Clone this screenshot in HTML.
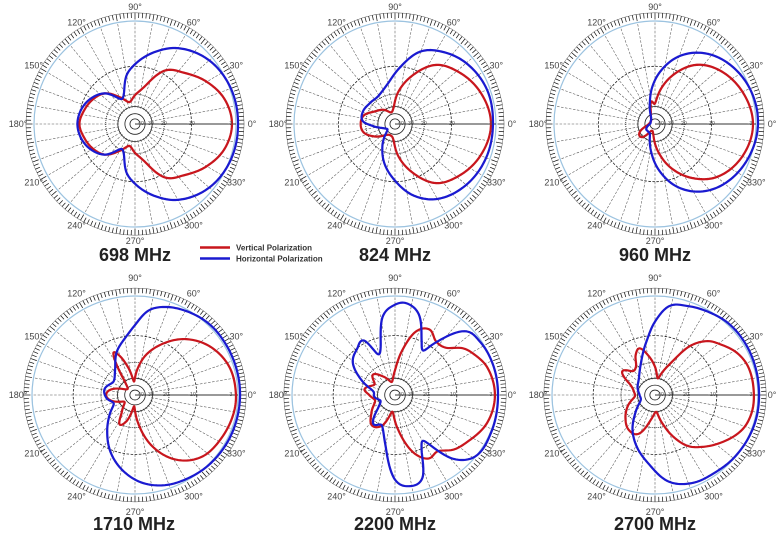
<!DOCTYPE html>
<html><head><meta charset="utf-8"><style>
html,body{margin:0;padding:0;background:#fff;}
svg{display:block;font-family:"Liberation Sans",Arial,sans-serif;}
.al{font-size:9px;fill:#444;text-anchor:middle;dominant-baseline:central;}
.db{font-size:5.5px;fill:#555;text-anchor:middle;dominant-baseline:central;}
.tt{font-size:18px;font-weight:bold;fill:#222;text-anchor:middle;}
.lg{font-size:8px;font-weight:bold;fill:#333;}
</style></head><body>
<svg id="s" width="781" height="536" viewBox="0 0 781 536" xmlns="http://www.w3.org/2000/svg">
<g transform="translate(135,124)"><g id="c0" transform="scale(1.01,1.03)"><g class="grid"></g></g>
<text class="al" x="117" y="0">0°</text><text class="al" x="101.3" y="-58.5">30°</text><text class="al" x="58.5" y="-101.3">60°</text><text class="al" x="0" y="-117">90°</text><text class="al" x="-58.5" y="-101.3">120°</text><text class="al" x="-101.3" y="-58.5">150°</text><text class="al" x="-117" y="0">180°</text><text class="al" x="-101.3" y="58.5">210°</text><text class="al" x="-58.5" y="101.3">240°</text><text class="al" x="0" y="117">270°</text><text class="al" x="58.5" y="101.3">300°</text><text class="al" x="101.3" y="58.5">330°</text>
<text class="db" x="5" y="0">-40</text><text class="db" x="15" y="0">-30</text><text class="db" x="28" y="0">-20</text><text class="db" x="56" y="0">-10</text><text class="db" x="95" y="0">-3</text></g>
<g transform="translate(395,124)"><g id="c1" transform="scale(1.01,1.03)"><g class="grid"></g></g>
<text class="al" x="117" y="0">0°</text><text class="al" x="101.3" y="-58.5">30°</text><text class="al" x="58.5" y="-101.3">60°</text><text class="al" x="0" y="-117">90°</text><text class="al" x="-58.5" y="-101.3">120°</text><text class="al" x="-101.3" y="-58.5">150°</text><text class="al" x="-117" y="0">180°</text><text class="al" x="-101.3" y="58.5">210°</text><text class="al" x="-58.5" y="101.3">240°</text><text class="al" x="0" y="117">270°</text><text class="al" x="58.5" y="101.3">300°</text><text class="al" x="101.3" y="58.5">330°</text>
<text class="db" x="5" y="0">-40</text><text class="db" x="15" y="0">-30</text><text class="db" x="28" y="0">-20</text><text class="db" x="56" y="0">-10</text><text class="db" x="95" y="0">-3</text></g>
<g transform="translate(655,124)"><g id="c2" transform="scale(1.01,1.03)"><g class="grid"></g></g>
<text class="al" x="117" y="0">0°</text><text class="al" x="101.3" y="-58.5">30°</text><text class="al" x="58.5" y="-101.3">60°</text><text class="al" x="0" y="-117">90°</text><text class="al" x="-58.5" y="-101.3">120°</text><text class="al" x="-101.3" y="-58.5">150°</text><text class="al" x="-117" y="0">180°</text><text class="al" x="-101.3" y="58.5">210°</text><text class="al" x="-58.5" y="101.3">240°</text><text class="al" x="0" y="117">270°</text><text class="al" x="58.5" y="101.3">300°</text><text class="al" x="101.3" y="58.5">330°</text>
<text class="db" x="5" y="0">-40</text><text class="db" x="15" y="0">-30</text><text class="db" x="28" y="0">-20</text><text class="db" x="56" y="0">-10</text><text class="db" x="95" y="0">-3</text></g>
<g transform="translate(135,395)"><g id="c3" transform="scale(1.03,0.99)"><g class="grid"></g></g>
<text class="al" x="117" y="0">0°</text><text class="al" x="101.3" y="-58.5">30°</text><text class="al" x="58.5" y="-101.3">60°</text><text class="al" x="0" y="-117">90°</text><text class="al" x="-58.5" y="-101.3">120°</text><text class="al" x="-101.3" y="-58.5">150°</text><text class="al" x="-117" y="0">180°</text><text class="al" x="-101.3" y="58.5">210°</text><text class="al" x="-58.5" y="101.3">240°</text><text class="al" x="0" y="117">270°</text><text class="al" x="58.5" y="101.3">300°</text><text class="al" x="101.3" y="58.5">330°</text>
<text class="db" x="5" y="0">-40</text><text class="db" x="15" y="0">-30</text><text class="db" x="30" y="0">-20</text><text class="db" x="57" y="0">-10</text><text class="db" x="95" y="0">-3</text></g>
<g transform="translate(395,395)"><g id="c4" transform="scale(1.03,0.99)"><g class="grid"></g></g>
<text class="al" x="117" y="0">0°</text><text class="al" x="101.3" y="-58.5">30°</text><text class="al" x="58.5" y="-101.3">60°</text><text class="al" x="0" y="-117">90°</text><text class="al" x="-58.5" y="-101.3">120°</text><text class="al" x="-101.3" y="-58.5">150°</text><text class="al" x="-117" y="0">180°</text><text class="al" x="-101.3" y="58.5">210°</text><text class="al" x="-58.5" y="101.3">240°</text><text class="al" x="0" y="117">270°</text><text class="al" x="58.5" y="101.3">300°</text><text class="al" x="101.3" y="58.5">330°</text>
<text class="db" x="5" y="0">-40</text><text class="db" x="15" y="0">-30</text><text class="db" x="30" y="0">-20</text><text class="db" x="57" y="0">-10</text><text class="db" x="95" y="0">-3</text></g>
<g transform="translate(655,395)"><g id="c5" transform="scale(1.03,0.99)"><g class="grid"></g></g>
<text class="al" x="117" y="0">0°</text><text class="al" x="101.3" y="-58.5">30°</text><text class="al" x="58.5" y="-101.3">60°</text><text class="al" x="0" y="-117">90°</text><text class="al" x="-58.5" y="-101.3">120°</text><text class="al" x="-101.3" y="-58.5">150°</text><text class="al" x="-117" y="0">180°</text><text class="al" x="-101.3" y="58.5">210°</text><text class="al" x="-58.5" y="101.3">240°</text><text class="al" x="0" y="117">270°</text><text class="al" x="58.5" y="101.3">300°</text><text class="al" x="101.3" y="58.5">330°</text>
<text class="db" x="5" y="0">-40</text><text class="db" x="15" y="0">-30</text><text class="db" x="30" y="0">-20</text><text class="db" x="57" y="0">-10</text><text class="db" x="95" y="0">-3</text></g>
<text class="tt" x="135" y="261">698 MHz</text>
<text class="tt" x="395" y="261">824 MHz</text>
<text class="tt" x="655" y="261">960 MHz</text>
<text class="tt" x="134" y="530">1710 MHz</text>
<text class="tt" x="395" y="530">2200 MHz</text>
<text class="tt" x="655" y="530">2700 MHz</text>
<line x1="200" y1="247.5" x2="230" y2="247.5" stroke="#c8161d" stroke-width="2.5"/>
<line x1="200" y1="258.5" x2="230" y2="258.5" stroke="#1a1ad0" stroke-width="2.5"/>
<text class="lg" x="236" y="250.5">Vertical Polarization</text>
<text class="lg" x="236" y="261.5">Horizontal Polarization</text>
</svg>
<script>
var NS="http://www.w3.org/2000/svg";
function el(t,a,p){var e=document.createElementNS(NS,t);for(var k in a)e.setAttribute(k,a[k]);p.appendChild(e);return e;}
var data=[
 {r:[[0,96],[15,92],[30,82],[45,70],[60,60],[75,38],[90,28],[105,22],[120,30],[135,42],[150,48],[165,52],[180,55],[195,52],[210,48],[225,42],[240,30],[255,22],[270,28],[285,38],[300,60],[315,70],[330,82],[345,92]],
  b:[[0,102],[20,101],[40,96],[60,85],[75,72],[90,58],[100,48],[110,32],[120,28],[135,42],[150,50],[165,55],[180,57],[195,55],[210,50],[225,42],[240,28],[250,32],[260,48],[270,58],[285,72],[300,85],[320,96],[340,101]]},
 {r:[[0,95],[20,90],[40,80],[55,70],[70,50],[85,30],[95,16],[110,12],[130,18],[150,24],[165,32],[180,34],[195,32],[210,24],[230,14],[250,12],[265,16],[275,30],[290,50],[305,70],[320,80],[340,90]],
  b:[[0,97],[20,97],[40,92],[55,85],[70,75],[85,55],[100,40],[120,32],[140,32],[160,34],[175,32],[185,22],[200,12],[220,10],[240,25],[255,40],[270,55],[285,72],[300,84],[320,92],[340,96]]},
 {r:[[0,97],[20,92],[40,82],[55,70],[70,50],[80,35],[90,20],[100,22],[110,12],[130,6],[160,5],[190,8],[210,18],[225,18],[240,8],[260,10],[275,25],[290,45],[305,64],[320,80],[340,92]],
  b:[[0,102],[20,100],[40,93],[55,84],[70,70],[85,50],[95,35],[105,20],[120,8],[150,5],[180,5],[210,10],[225,10],[245,12],[260,25],[275,45],[290,65],[305,80],[320,90],[340,98]]},
 {r:[[0,98],[15,95],[30,85],[45,70],[60,52],[75,35],[85,22],[95,12],[105,25],[115,40],[120,42],[130,15],[150,10],[170,25],[180,28],[190,25],[210,12],[230,20],[240,30],[250,25],[265,10],[275,22],[290,48],[305,70],[320,85],[335,92],[350,97]],
  b:[[0,102],[20,101],[40,96],[55,90],[70,83],[80,76],[90,62],[100,52],[115,42],[130,30],[150,24],[170,30],[185,28],[200,22],[215,30],[230,42],[245,56],[260,68],[275,78],[290,85],[305,90],[320,95],[340,100]]},
 {r:[[0,97],[15,93],[25,85],[32,78],[40,65],[50,62],[60,67],[70,60],[80,40],[90,22],[105,12],[125,20],[140,28],[155,22],[170,30],[180,25],[195,20],[215,28],[230,35],[245,30],[260,15],[275,30],[290,55],[300,65],[310,65],[320,75],[330,82],[345,93]],
  b:[[0,100],[15,99],[30,95],[40,88],[50,60],[55,48],[62,55],[72,75],[82,82],[90,80],[100,70],[108,45],[115,40],[122,57],[132,55],[145,50],[158,35],[170,22],[185,20],[200,15],[215,20],[230,33],[245,30],[258,45],[270,75],[280,82],[290,78],[298,55],[305,50],[315,80],[325,95],[340,99]]},
 {r:[[0,96],[15,94],[25,88],[35,78],[43,70],[52,55],[60,35],[70,22],[80,15],[90,25],[100,35],[110,44],[118,40],[125,32],[135,30],[147,38],[160,25],[175,20],[185,20],[200,28],[215,35],[230,40],[245,38],[260,22],[275,15],[285,25],[295,40],[305,55],[315,65],[325,75],[340,90],[350,95]],
  b:[[0,101],[20,100],[40,96],[55,90],[68,85],[80,80],[90,65],[100,48],[115,32],[135,22],[160,18],[180,15],[200,15],[220,25],[235,38],[250,50],[265,62],[280,78],[295,86],[310,90],[325,95],[345,100]]}
];
function curve(pts,ys){
 var n=pts.length,d="";
 for(var i=0;i<n;i++){
  var p0=pts[(i-1+n)%n],p1=pts[i],p2=pts[(i+1)%n],p3=pts[(i+2)%n];
  var a0=p0[0],a1=p1[0],a2=p2[0],a3=p3[0];
  if(a0>a1)a0-=360; if(a2<a1)a2+=360; if(a3<a2)a3+=360;
  var m1=(p2[1]-p0[1])/(a2-a0),m2=(p3[1]-p1[1])/(a3-a1),h=a2-a1;
  for(var s=0;s<h;s+=1){
   var t=s/h,t2=t*t,t3=t2*t;
   var r=(2*t3-3*t2+1)*p1[1]+(t3-2*t2+t)*h*m1+(-2*t3+3*t2)*p2[1]+(t3-t2)*h*m2;
   if(r<2)r=2;
   var a=(a1+s)*Math.PI/180;
   var x=r*Math.cos(a),y=-r*Math.sin(a)*ys;
   var rr=Math.sqrt(x*x+y*y);
   if(rr>102){x*=102/rr;y*=102/rr;}
   d+=(d?"L":"M")+x.toFixed(2)+","+y.toFixed(2);
  }
 }
 return d+"Z";
}
for(var c=0;c<6;c++){
 var g=document.querySelector("#c"+c+" .grid");
 var row2=c>=3, ys=row2?1.14:1;
 el("circle",{r:100,fill:"none",stroke:"#9cc3e0","stroke-width":1.2},g);
 for(var k=0;k<360;k+=2){
  var a=k*Math.PI/180,r1=(k%10==0)?101.5:103,r2=108;
  el("line",{x1:r1*Math.cos(a),y1:r1*Math.sin(a),x2:r2*Math.cos(a),y2:r2*Math.sin(a),stroke:"#111","stroke-width":0.7},g);
 }
 el("circle",{r:108,fill:"none",stroke:"#333","stroke-width":0.4},g);
 for(var k=10;k<360;k+=10){
  var a=k*Math.PI/180;
  el("line",{x1:16*Math.cos(a),y1:16*Math.sin(a),x2:100*Math.cos(a),y2:100*Math.sin(a),stroke:"#555","stroke-width":0.55,"stroke-dasharray":"2.5,1.5"},g);
 }
 el("line",{x1:0,y1:0,x2:100,y2:0,stroke:"#333","stroke-width":0.9},g);
 el("circle",{r:row2?60:56,fill:"none",stroke:"#222","stroke-width":0.8,"stroke-dasharray":"2.5,1.5"},g);
 el("circle",{r:row2?33:29,fill:"none",stroke:"#222","stroke-width":0.8,"stroke-dasharray":"1,1"},g);
 el("circle",{r:17,fill:"none",stroke:"#222","stroke-width":0.8},g);
 el("circle",{r:10,fill:"none",stroke:"#222","stroke-width":0.8},g);
 el("circle",{r:5,fill:"none",stroke:"#222","stroke-width":0.8},g);
 el("path",{d:curve(data[c].r,ys),fill:"none",stroke:"#c8161d","stroke-width":2.2,"stroke-linejoin":"round"},g);
 el("path",{d:curve(data[c].b,ys),fill:"none",stroke:"#1a1ad0","stroke-width":2.2,"stroke-linejoin":"round"},g);
}
</script>
</body></html>
